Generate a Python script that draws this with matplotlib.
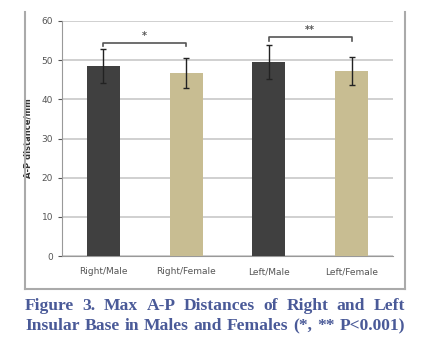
import matplotlib.pyplot as plt
from matplotlib.lines import Line2D

groups = ["Right/Male", "Right/Female", "Left/Male", "Left/Female"]
means = [48.5, 46.7, 49.6, 47.2]
sds = [4.3, 3.8, 4.4, 3.6]
colors = ["#404040", "#c8bd92", "#404040", "#c8bd92"]
brackets = [(0, 1, 54.5, "*"), (2, 3, 56.0, "**")]
caption = ["Figure 3. Max A-P Distances of Right and Left",
           "Insular Base in Males and Females (*, ** P<0.001)"]

fig = plt.figure(figsize=(4.3, 3.54), dpi=100)
W, H = 430, 354
ax = fig.add_axes([62 / W, 1 - 256 / H, (393 - 62) / W, (256 - 21) / H])

x = range(len(groups))
ax.bar(x, means, width=0.4, color=colors, zorder=3)
ax.errorbar(x, means, yerr=sds, fmt="none", ecolor="#222222", elinewidth=1.0,
            capsize=2.5, capthick=1.0, zorder=4)

for i, j, y, s in brackets:
    ax.plot([i, i, j, j], [y - 1, y, y, y - 1], color="#555555", lw=1.2, zorder=5)
    ax.text((i + j) / 2, y + 1.6, s, ha="center", va="center", fontsize=7,
            color="#555555", fontweight="bold")

ax.set_xlim(-0.5, 3.5)
ax.set_ylim(0, 60)
ax.set_yticks(range(0, 61, 10))
ax.set_xticks(list(x))
ax.set_xticklabels(groups)
ax.yaxis.grid(True, color="#c8c8c8", lw=1.2, zorder=0)
for sp in ["top", "right"]:
    ax.spines[sp].set_visible(False)
ax.spines["left"].set_color("#999999")
ax.spines["bottom"].set_color("#999999")
ax.tick_params(colors="#555555", labelsize=6.5, length=3)
ax.tick_params(axis="x", length=0, pad=8)
ax.set_ylabel("A-P distance/mm", fontsize=6, fontweight="bold", color="#333333")
ax.yaxis.set_label_coords(-30 / 331, 0.5)

# outer chart frame
fc = "#aaaaaa"
fig.add_artist(Line2D([25 / W, 25 / W], [1 - 289 / H, 1 - 12 / H], color=fc, lw=1.5))
fig.add_artist(Line2D([405 / W, 405 / W], [1 - 289 / H, 1 - 12 / H], color=fc, lw=1.5))
fig.add_artist(Line2D([25 / W, 405 / W], [1 - 289 / H, 1 - 289 / H], color=fc, lw=1.5))

# justified caption
fig.canvas.draw()
r = fig.canvas.get_renderer()
left, right = 25 / W, 405 / W
for k, line in enumerate(caption):
    words = line.split()
    yy = 1 - (306 + 20 * k) / H
    tmp = [fig.text(0, yy, w, fontsize=12.6, family="Liberation Serif", fontweight="bold",
                    color="#4a5a98", va="center") for w in words]
    widths = [t.get_window_extent(r).width / W for t in tmp]
    gap = (right - left - sum(widths)) / (len(words) - 1)
    pos = left
    for t, w in zip(tmp, widths):
        t.set_x(pos)
        pos += w + gap

fig.savefig("out.png", dpi=100)
